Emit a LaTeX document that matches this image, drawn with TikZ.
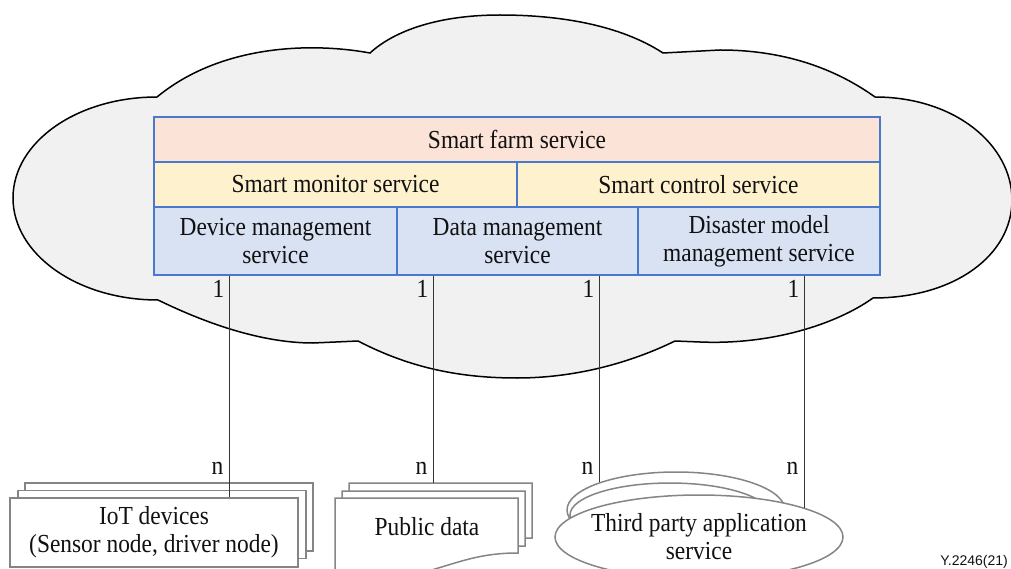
\documentclass[tikz,border=0pt]{standalone}
\usepackage{fontspec}
\setmainfont{Liberation Serif}[FakeStretch=0.9]
\newfontfamily\figsans{Liberation Sans}
\usetikzlibrary{shapes.geometric,calc}

\definecolor{cloudfill}{HTML}{F1F1F1}
\definecolor{cellline}{HTML}{4A78CC}
\definecolor{farmfill}{HTML}{FBE3D7}
\definecolor{ctrlfill}{HTML}{FEF1CD}
\definecolor{mgmtfill}{HTML}{D9E2F3}
\definecolor{stackline}{HTML}{858585}
\definecolor{ink}{HTML}{111111}

\begin{document}
\begin{tikzpicture}[x=1pt,y=-1pt,
  txt/.style={font=\fontsize{26}{28}\selectfont, text=ink},
  cell/.style={draw=cellline, line width=1.3pt, rectangle, inner sep=0pt, txt, align=center},
  link/.style={draw=ink!85, line width=1.7pt},
  lbl/.style={txt, inner sep=0pt},
  stackbox/.style={draw=stackline, fill=white, line width=1.5pt, rectangle,
                   minimum width=288pt, minimum height=68pt, inner sep=0pt},
  stackoval/.style={draw=stackline, fill=white, line width=1.5pt, ellipse, inner sep=0pt},
  docpage/.pic={
    \path[draw=stackline, fill=white, line width=1.5pt]
      (0,0) -- (183,0) -- (183,55)
      .. controls (145,55) and (125,64) .. (93,73)
      .. controls (65,81) and (35,84) .. (0,82) -- cycle;
  }]

\useasboundingbox (0,0) rectangle (1011,569);

% cloud
\path[draw=black, fill=cloudfill, line width=1.5pt]
  (157,97) .. controls (77,97) and (13,142) .. (13,198)
  .. controls (13,254) and (77,300) .. (158,300)
  .. controls (195,318) and (255,343) .. (313,343) -- (358,341)
  .. controls (410,368) and (460,378) .. (517,378)
  .. controls (575,378) and (630,363) .. (675,341) -- (700,342)
  .. controls (770,345) and (835,325) .. (873,298)
  .. controls (955,298) and (1012,255) .. (1012,200)
  .. controls (1012,145) and (955,97) .. (875,97)
  .. controls (840,72) and (790,50) .. (720,50) -- (663,53)
  .. controls (620,25) and (560,15) .. (500,15)
  .. controls (440,15) and (395,30) .. (370,53)
  .. controls (310,42) and (220,45) .. (157,97) -- cycle;

% service table
\node[cell, fill=farmfill, minimum width=726pt, minimum height=45pt] (farm) at (517,139.5) {Smart farm service};
\node[cell, fill=ctrlfill, minimum width=363pt, minimum height=45pt] (monitor) at (335.5,184.5) {Smart monitor service};
\node[cell, fill=ctrlfill, minimum width=363pt, minimum height=45pt] (control) at (698.5,184.5) {Smart control service};
\node[cell, fill=mgmtfill, minimum width=243pt, minimum height=68pt] (devsvc) at (275.5,241) {Device management\\service};
\node[cell, fill=mgmtfill, minimum width=241pt, minimum height=68pt] (datasvc) at (517.5,241) {Data management\\service};
\node[cell, fill=mgmtfill, minimum width=242pt, minimum height=68pt] (dissvc) at (759,241) {Disaster model\\management service};

% IoT devices stack
\node[stackbox] (iot3) at (169,517) {};
\node[stackbox] (iot2) at (162,524.5) {};
\node[stackbox, txt, align=center, minimum height=69pt] (iotf) at (154,532.5) {IoT devices\\(Sensor node, driver node)};

% public data stack
\pic at (349,483) {docpage};
\pic at (342,491) {docpage};
\pic at (335,498) {docpage};
\coordinate (pub3top) at (349,483);
\node[lbl] (pubtext) at (427,527) {Public data};

% third party application stack
\node[stackoval, minimum width=218pt, minimum height=76pt] (tp3) at (676,510) {};
\node[stackoval, minimum width=200pt, minimum height=64pt] (tp2) at (670,515) {};
\node[stackoval, minimum width=288pt, minimum height=84pt,
      label={[txt, align=center]center:Third party application\\service}] (tpf) at (699,537) {};

% connectors
\coordinate (l1) at ($(devsvc.south west)+(76,0)$);
\coordinate (l2) at ($(datasvc.south west)+(37,0)$);
\coordinate (l3) at ($(dissvc.south west)+(-38,0)$);
\coordinate (l4) at ($(dissvc.south west)+(167,0)$);

\draw[link] (l1) -- (l1 |- iotf.north);
\draw[link] (l2) -- (l2 |- pub3top);
\draw[link] (l3) -- (l3 |- tp3.160.4);
\draw[link] (l4) -- (l4 |- tpf.15);

% multiplicities
\node[lbl] (m1a) at ($(l1)+(-11,13)$) {1};
\node[lbl] (m2a) at ($(l2)+(-11,13)$) {1};
\node[lbl] (m3a) at ($(l3)+(-11,13)$) {1};
\node[lbl] (m4a) at ($(l4)+(-11,13)$) {1};
\node[lbl] (m1b) at ($(l1)+(-12,193)$) {n};
\node[lbl] (m2b) at ($(l2)+(-12,193)$) {n};
\node[lbl] (m3b) at ($(l3)+(-12,193)$) {n};
\node[lbl] (m4b) at ($(l4)+(-12,193)$) {n};

% figure number
\node[font=\figsans\fontsize{14}{14}\selectfont, text=ink, anchor=base east, inner sep=0pt]
  (figid) at (1008,565) {Y.2246(21)};

\end{tikzpicture}
\end{document}
